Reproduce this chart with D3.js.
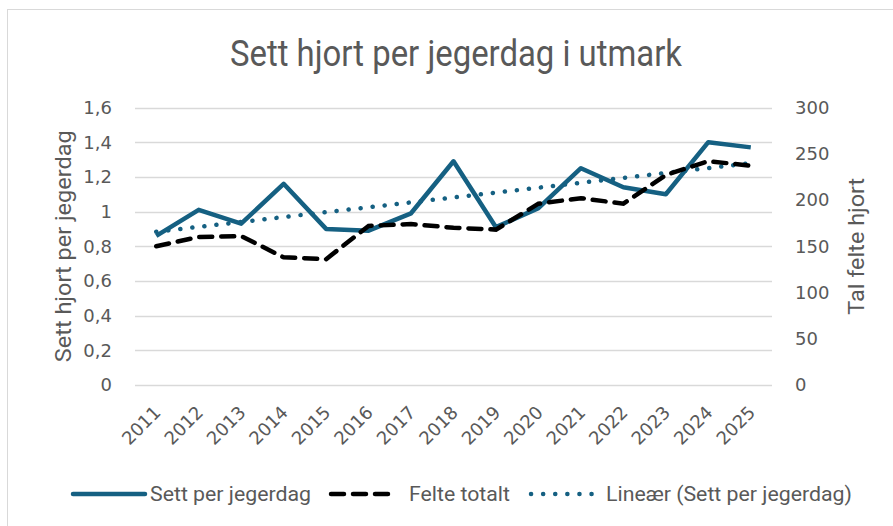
<!DOCTYPE html>
<html>
<head>
<meta charset="utf-8">
<script src="https://cdn.jsdelivr.net/npm/d3@7"></script>
<style>
  body { margin: 0; background: #fff; }
  text { font-family: Roboto, "Liberation Sans", sans-serif; fill: #595959; }
  .tick { font-family: "DejaVu Sans", sans-serif; font-size: 18px; }
</style>
</head>
<body>
<div id="chart"></div>
<script>
const years = ['2011', '2012', '2013', '2014', '2015', '2016', '2017', '2018',
  '2019', '2020', '2021', '2022', '2023', '2024', '2025'];
// sett hjort per jegerdag (left axis)
const sett = [0.86, 1.01, 0.93, 1.16, 0.90, 0.89, 0.99, 1.29, 0.91, 1.02, 1.25, 1.14, 1.10, 1.40, 1.37];
// felte totalt (right axis)
const felte = [150, 160, 161, 138, 136, 172, 174, 170, 168, 196, 202, 196, 227, 242, 237];
const leftTicks = [0, 0.2, 0.4, 0.6, 0.8, 1, 1.2, 1.4, 1.6];
const rightTicks = [0, 50, 100, 150, 200, 250, 300];

const W = 893, H = 526;
const blue = '#156082';
const plot = { left: 135, right: 772, top: 107.5, bottom: 385 };

const svg = d3.select('#chart').append('svg')
  .attr('width', W).attr('height', H);

// chart frame
svg.append('rect')
  .attr('x', 7.5).attr('y', 9.5)
  .attr('width', W + 20).attr('height', H + 20)
  .attr('fill', 'none').attr('stroke', '#d9d9d9').attr('stroke-width', 1);

const x = d3.scaleBand().domain(years).range([plot.left, plot.right]);
const yL = d3.scaleLinear().domain([0, 1.6]).range([plot.bottom, plot.top]);
const yR = d3.scaleLinear().domain([0, 300]).range([plot.bottom, plot.top]);
const cx = d => x(d) + x.bandwidth() / 2;

// gridlines
svg.append('g').selectAll('line').data(leftTicks).join('line')
  .attr('x1', plot.left).attr('x2', plot.right)
  .attr('y1', d => Math.round(yL(d)) + 0.5).attr('y2', d => Math.round(yL(d)) + 0.5)
  .attr('stroke', '#d9d9d9').attr('stroke-width', 1.3);

const fmt = d => String(d).replace('.', ',');

// left axis labels
svg.append('g').selectAll('text').data(leftTicks).join('text')
  .attr('class', 'tick')
  .attr('x', 112).attr('y', d => yL(d)).attr('dy', '0.36em')
  .attr('text-anchor', 'end')
  .text(fmt);

// right axis labels
svg.append('g').selectAll('text').data(rightTicks).join('text')
  .attr('class', 'tick')
  .attr('x', 795).attr('y', d => yR(d)).attr('dy', '0.36em')
  .attr('text-anchor', 'start')
  .text(d => d);

// x labels
svg.append('g').selectAll('text').data(years).join('text')
  .attr('class', 'tick')
  .attr('transform', d => `translate(${cx(d) + 1},${plot.bottom + 24}) rotate(-45)`)
  .attr('text-anchor', 'end').attr('dy', '0.36em')
  .text(d => d);

// axis titles
svg.append('text')
  .attr('transform', `translate(63,${(plot.top + plot.bottom) / 2}) rotate(-90)`)
  .attr('text-anchor', 'middle').attr('dy', '0.35em')
  .attr('textLength', 232).attr('lengthAdjust', 'spacingAndGlyphs')
  .style('font-size', '22px')
  .text('Sett hjort per jegerdag');

svg.append('text')
  .attr('transform', `translate(856,${(plot.top + plot.bottom) / 2}) rotate(-90)`)
  .attr('text-anchor', 'middle').attr('dy', '0.35em')
  .attr('textLength', 137).attr('lengthAdjust', 'spacingAndGlyphs')
  .style('font-size', '22px')
  .text('Tal felte hjort');

// title
svg.append('text')
  .attr('x', 456).attr('y', 66)
  .attr('text-anchor', 'middle')
  .attr('textLength', 452).attr('lengthAdjust', 'spacingAndGlyphs')
  .style('font-size', '37px')
  .text('Sett hjort per jegerdag i utmark');

// linear trend of sett
const n = sett.length;
const xs = d3.range(n);
const mx = d3.mean(xs), my = d3.mean(sett);
const slope = d3.sum(xs, i => (i - mx) * (sett[i] - my)) / d3.sum(xs, i => (i - mx) ** 2);
const icpt = my - slope * mx;
const trend = years.map((yr, i) => icpt + slope * i);

const lineL = d3.line().x((d, i) => cx(years[i])).y(d => yL(d));
const lineR = d3.line().x((d, i) => cx(years[i])).y(d => yR(d));

svg.append('path').datum(trend).attr('d', lineL)
  .attr('fill', 'none').attr('stroke', blue).attr('stroke-width', 4.5)
  .attr('stroke-linecap', 'round').attr('stroke-dasharray', '0.1 12');

svg.append('path').datum(sett).attr('d', lineL)
  .attr('fill', 'none').attr('stroke', blue).attr('stroke-width', 4.5)
  .attr('stroke-linejoin', 'round');

svg.append('path').datum(felte).attr('d', lineR)
  .attr('fill', 'none').attr('stroke', '#000').attr('stroke-width', 4.5)
  .attr('stroke-linecap', 'round').attr('stroke-dasharray', '13 9');

// legend
const legend = [
  { label: 'Sett per jegerdag', x1: 73, x2: 145, tx: 150, len: 161, stroke: blue, dash: null },
  { label: 'Felte totalt', x1: 331, x2: 395, tx: 409, len: 101, stroke: '#000', dash: '13 9' },
  { label: 'Lineær (Sett per jegerdag)', x1: 531, x2: 596, tx: 606, len: 246, stroke: blue, dash: '0.1 12' }
];
const ly = 494;
const lg = svg.append('g').selectAll('g').data(legend).join('g');
lg.append('line')
  .attr('x1', d => d.x1).attr('x2', d => d.x2).attr('y1', ly).attr('y2', ly)
  .attr('stroke', d => d.stroke).attr('stroke-width', 4.5)
  .attr('stroke-linecap', 'round')
  .attr('stroke-dasharray', d => d.dash);
lg.append('text')
  .attr('x', d => d.tx).attr('y', ly).attr('dy', '0.35em')
  .attr('textLength', d => d.len).attr('lengthAdjust', 'spacingAndGlyphs')
  .style('font-size', '20px')
  .text(d => d.label);
</script>
</body>
</html>
